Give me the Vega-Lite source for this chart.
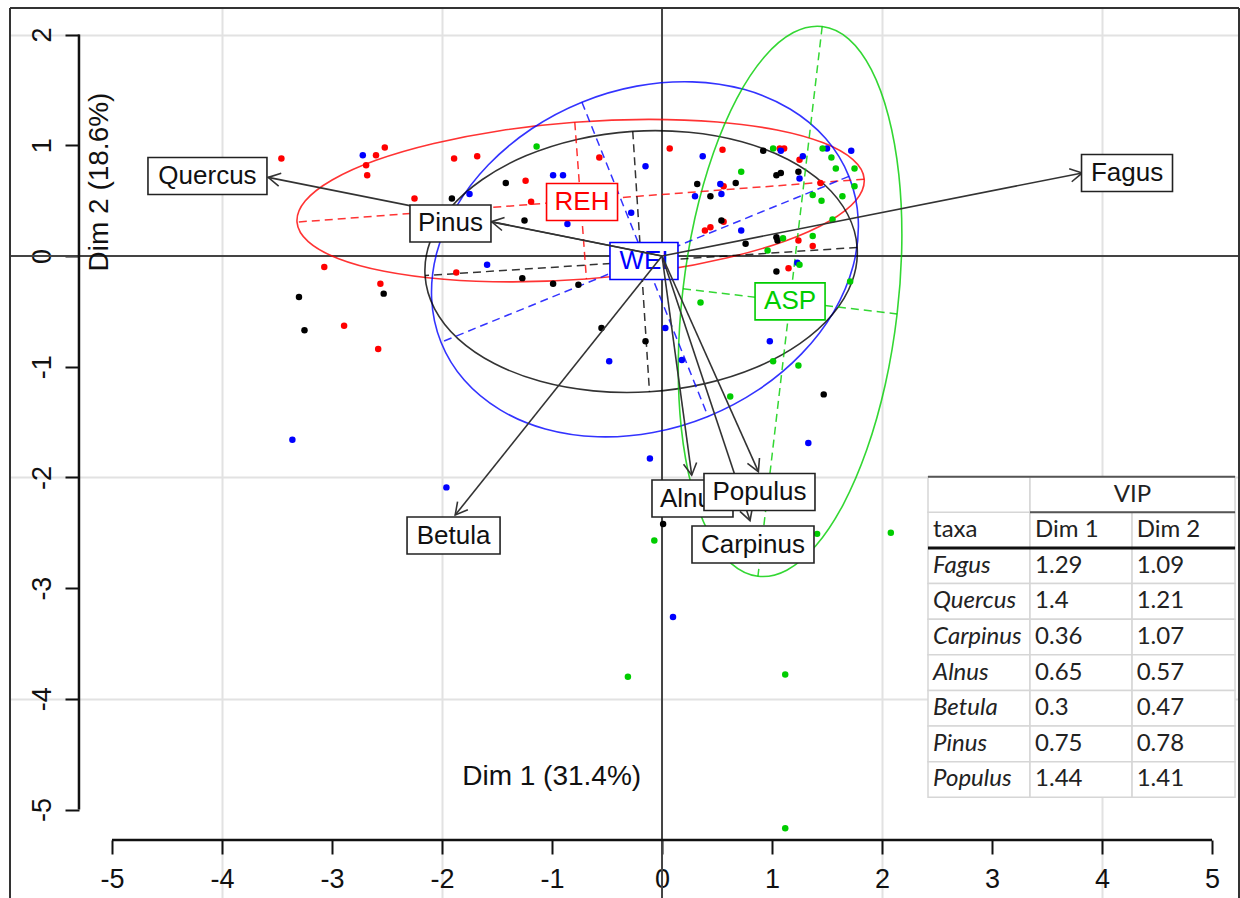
{
  "$schema": "https://vega.github.io/schema/vega-lite/v6.json",
  "width": 1229,
  "height": 890,
  "autosize": {"type": "none"},
  "padding": {"left": 10, "top": 8, "right": 1, "bottom": 0},
  "background": "white",
  "config": {"view": {"stroke": null}, "font": "Liberation Sans"},
  "datasets": {
    "ind": [
      {"g":"REH","x":-3.46,"y":0.88},{"g":"REH","x":-2.60,"y":0.91},{"g":"REH","x":-2.52,"y":0.98},{"g":"REH","x":-2.69,"y":0.82},{"g":"REH","x":-2.68,"y":0.73},{"g":"REH","x":-2.25,"y":0.52},{"g":"REH","x":-3.07,"y":-0.10},{"g":"REH","x":-2.56,"y":-0.25},{"g":"REH","x":-2.89,"y":-0.63},{"g":"REH","x":-2.58,"y":-0.84},{"g":"REH","x":-1.89,"y":0.88},{"g":"REH","x":-1.68,"y":0.90},{"g":"REH","x":-0.57,"y":0.89},{"g":"REH","x":0.07,"y":0.97},{"g":"REH","x":-1.24,"y":0.68},{"g":"REH","x":-1.19,"y":0.49},{"g":"REH","x":-1.87,"y":-0.15},{"g":"REH","x":0.55,"y":0.96},{"g":"REH","x":1.07,"y":0.97},{"g":"REH","x":1.11,"y":0.97},{"g":"REH","x":1.25,"y":0.87},{"g":"REH","x":1.44,"y":0.66},{"g":"REH","x":0.56,"y":0.63},{"g":"REH","x":0.39,"y":0.23},{"g":"REH","x":0.44,"y":0.26},{"g":"REH","x":0.56,"y":0.31},{"g":"REH","x":1.24,"y":0.14},{"g":"REH","x":1.37,"y":0.09},{"g":"REH","x":1.15,"y":-0.11},
      {"g":"WEI","x":-2.72,"y":0.91},{"g":"WEI","x":-3.36,"y":-1.66},{"g":"WEI","x":-0.99,"y":0.73},{"g":"WEI","x":-0.90,"y":0.73},{"g":"WEI","x":-0.15,"y":0.81},{"g":"WEI","x":-1.75,"y":0.56},{"g":"WEI","x":-0.86,"y":0.29},{"g":"WEI","x":-0.28,"y":0.39},{"g":"WEI","x":-1.59,"y":-0.08},{"g":"WEI","x":0.30,"y":0.54},{"g":"WEI","x":0.37,"y":0.90},{"g":"WEI","x":1.08,"y":0.95},{"g":"WEI","x":1.28,"y":0.90},{"g":"WEI","x":1.50,"y":0.97},{"g":"WEI","x":1.72,"y":0.95},{"g":"WEI","x":1.25,"y":0.70},{"g":"WEI","x":0.53,"y":0.65},{"g":"WEI","x":0.54,"y":0.56},{"g":"WEI","x":0.72,"y":0.23},{"g":"WEI","x":1.23,"y":-0.06},{"g":"WEI","x":0.03,"y":-0.65},{"g":"WEI","x":-0.48,"y":-0.95},{"g":"WEI","x":0.18,"y":-0.94},{"g":"WEI","x":0.98,"y":-0.77},{"g":"WEI","x":1.33,"y":-1.69},{"g":"WEI","x":-0.11,"y":-1.83},{"g":"WEI","x":-1.96,"y":-2.09},{"g":"WEI","x":0.10,"y":-3.26},
      {"g":"ALL","x":-2.53,"y":-0.34},{"g":"ALL","x":-3.30,"y":-0.37},{"g":"ALL","x":-3.25,"y":-0.67},{"g":"ALL","x":-1.42,"y":0.66},{"g":"ALL","x":-1.91,"y":0.52},{"g":"ALL","x":-1.25,"y":0.32},{"g":"ALL","x":-1.27,"y":-0.20},{"g":"ALL","x":-0.99,"y":-0.25},{"g":"ALL","x":-0.76,"y":-0.26},{"g":"ALL","x":0.32,"y":0.65},{"g":"ALL","x":0.92,"y":0.95},{"g":"ALL","x":1.04,"y":0.73},{"g":"ALL","x":1.08,"y":0.75},{"g":"ALL","x":1.24,"y":0.76},{"g":"ALL","x":0.67,"y":0.66},{"g":"ALL","x":0.44,"y":0.54},{"g":"ALL","x":0.54,"y":0.32},{"g":"ALL","x":0.76,"y":0.11},{"g":"ALL","x":1.04,"y":0.17},{"g":"ALL","x":1.05,"y":0.14},{"g":"ALL","x":1.04,"y":-0.14},{"g":"ALL","x":-0.55,"y":-0.65},{"g":"ALL","x":-0.15,"y":-0.77},{"g":"ALL","x":1.47,"y":-1.25},{"g":"ALL","x":0.01,"y":-2.42},
      {"g":"ASP","x":-1.14,"y":0.99},{"g":"ASP","x":1.01,"y":0.97},{"g":"ASP","x":1.46,"y":0.97},{"g":"ASP","x":1.54,"y":0.89},{"g":"ASP","x":1.58,"y":0.79},{"g":"ASP","x":1.75,"y":0.79},{"g":"ASP","x":1.75,"y":0.63},{"g":"ASP","x":1.64,"y":0.54},{"g":"ASP","x":1.37,"y":0.55},{"g":"ASP","x":1.45,"y":0.50},{"g":"ASP","x":0.72,"y":0.76},{"g":"ASP","x":1.10,"y":0.16},{"g":"ASP","x":1.37,"y":0.18},{"g":"ASP","x":0.96,"y":0.05},{"g":"ASP","x":1.55,"y":0.33},{"g":"ASP","x":1.25,"y":-0.08},{"g":"ASP","x":1.71,"y":-0.23},{"g":"ASP","x":0.35,"y":-0.42},{"g":"ASP","x":1.01,"y":-0.95},{"g":"ASP","x":1.24,"y":-0.99},{"g":"ASP","x":0.62,"y":-1.27},{"g":"ASP","x":-0.07,"y":-2.57},{"g":"ASP","x":1.41,"y":-2.51},{"g":"ASP","x":2.08,"y":-2.50},{"g":"ASP","x":-0.31,"y":-3.80},{"g":"ASP","x":1.12,"y":-3.78},{"g":"ASP","x":1.12,"y":-5.17}
    ],
    "ell": [
      {"g":"REH","i":0,"x":1.838,"y":0.694},{"g":"REH","i":1,"x":1.736,"y":0.870},{"g":"REH","i":2,"x":1.466,"y":1.022},{"g":"REH","i":3,"x":1.045,"y":1.138},{"g":"REH","i":4,"x":0.503,"y":1.210},{"g":"REH","i":5,"x":-0.124,"y":1.234},{"g":"REH","i":6,"x":-0.793,"y":1.208},{"g":"REH","i":7,"x":-1.459,"y":1.134},{"g":"REH","i":8,"x":-2.075,"y":1.016},{"g":"REH","i":9,"x":-2.601,"y":0.864},{"g":"REH","i":10,"x":-2.999,"y":0.686},{"g":"REH","i":11,"x":-3.244,"y":0.496},{"g":"REH","i":12,"x":-3.318,"y":0.306},{"g":"REH","i":13,"x":-3.216,"y":0.130},{"g":"REH","i":14,"x":-2.946,"y":-0.022},{"g":"REH","i":15,"x":-2.525,"y":-0.138},{"g":"REH","i":16,"x":-1.983,"y":-0.210},{"g":"REH","i":17,"x":-1.356,"y":-0.234},{"g":"REH","i":18,"x":-0.687,"y":-0.208},{"g":"REH","i":19,"x":-0.021,"y":-0.134},{"g":"REH","i":20,"x":0.595,"y":-0.016},{"g":"REH","i":21,"x":1.121,"y":0.136},{"g":"REH","i":22,"x":1.519,"y":0.314},{"g":"REH","i":23,"x":1.764,"y":0.504},
      {"g":"WEI","i":0,"x":1.699,"y":0.719},{"g":"WEI","i":1,"x":1.488,"y":1.061},{"g":"WEI","i":2,"x":1.164,"y":1.328},{"g":"WEI","i":3,"x":0.751,"y":1.503},{"g":"WEI","i":4,"x":0.276,"y":1.573},{"g":"WEI","i":5,"x":-0.229,"y":1.534},{"g":"WEI","i":6,"x":-0.728,"y":1.389},{"g":"WEI","i":7,"x":-1.188,"y":1.147},{"g":"WEI","i":8,"x":-1.578,"y":0.824},{"g":"WEI","i":9,"x":-1.871,"y":0.444},{"g":"WEI","i":10,"x":-2.047,"y":0.031},{"g":"WEI","i":11,"x":-2.094,"y":-0.386},{"g":"WEI","i":12,"x":-2.009,"y":-0.779},{"g":"WEI","i":13,"x":-1.798,"y":-1.121},{"g":"WEI","i":14,"x":-1.474,"y":-1.388},{"g":"WEI","i":15,"x":-1.061,"y":-1.563},{"g":"WEI","i":16,"x":-0.586,"y":-1.633},{"g":"WEI","i":17,"x":-0.081,"y":-1.594},{"g":"WEI","i":18,"x":0.418,"y":-1.449},{"g":"WEI","i":19,"x":0.878,"y":-1.207},{"g":"WEI","i":20,"x":1.268,"y":-0.884},{"g":"WEI","i":21,"x":1.561,"y":-0.504},{"g":"WEI","i":22,"x":1.737,"y":-0.091},{"g":"WEI","i":23,"x":1.784,"y":0.326},
      {"g":"ALL","i":0,"x":1.774,"y":0.077},{"g":"ALL","i":1,"x":1.687,"y":0.377},{"g":"ALL","i":2,"x":1.473,"y":0.648},{"g":"ALL","i":3,"x":1.145,"y":0.871},{"g":"ALL","i":4,"x":0.726,"y":1.032},{"g":"ALL","i":5,"x":0.245,"y":1.118},{"g":"ALL","i":6,"x":-0.266,"y":1.126},{"g":"ALL","i":7,"x":-0.772,"y":1.053},{"g":"ALL","i":8,"x":-1.238,"y":0.905},{"g":"ALL","i":9,"x":-1.633,"y":0.691},{"g":"ALL","i":10,"x":-1.929,"y":0.428},{"g":"ALL","i":11,"x":-2.107,"y":0.132},{"g":"ALL","i":12,"x":-2.154,"y":-0.177},{"g":"ALL","i":13,"x":-2.067,"y":-0.477},{"g":"ALL","i":14,"x":-1.853,"y":-0.748},{"g":"ALL","i":15,"x":-1.525,"y":-0.971},{"g":"ALL","i":16,"x":-1.106,"y":-1.132},{"g":"ALL","i":17,"x":-0.625,"y":-1.218},{"g":"ALL","i":18,"x":-0.114,"y":-1.226},{"g":"ALL","i":19,"x":0.392,"y":-1.153},{"g":"ALL","i":20,"x":0.858,"y":-1.005},{"g":"ALL","i":21,"x":1.253,"y":-0.791},{"g":"ALL","i":22,"x":1.549,"y":-0.528},{"g":"ALL","i":23,"x":1.727,"y":-0.232},
      {"g":"ASP","i":0,"x":1.456,"y":2.073},{"g":"ASP","i":1,"x":1.194,"y":2.018},{"g":"ASP","i":2,"x":0.930,"y":1.798},{"g":"ASP","i":3,"x":0.682,"y":1.427},{"g":"ASP","i":4,"x":0.467,"y":0.931},{"g":"ASP","i":5,"x":0.299,"y":0.343},{"g":"ASP","i":6,"x":0.191,"y":-0.296},{"g":"ASP","i":7,"x":0.148,"y":-0.942},{"g":"ASP","i":8,"x":0.175,"y":-1.552},{"g":"ASP","i":9,"x":0.270,"y":-2.085},{"g":"ASP","i":10,"x":0.425,"y":-2.503},{"g":"ASP","i":11,"x":0.630,"y":-2.779},{"g":"ASP","i":12,"x":0.872,"y":-2.893},{"g":"ASP","i":13,"x":1.134,"y":-2.838},{"g":"ASP","i":14,"x":1.398,"y":-2.618},{"g":"ASP","i":15,"x":1.646,"y":-2.247},{"g":"ASP","i":16,"x":1.861,"y":-1.751},{"g":"ASP","i":17,"x":2.029,"y":-1.163},{"g":"ASP","i":18,"x":2.137,"y":-0.524},{"g":"ASP","i":19,"x":2.180,"y":0.122},{"g":"ASP","i":20,"x":2.153,"y":0.732},{"g":"ASP","i":21,"x":2.058,"y":1.265},{"g":"ASP","i":22,"x":1.903,"y":1.683},{"g":"ASP","i":23,"x":1.698,"y":1.959}
    ],
    "eax": [
      {"g":"REH","x":1.838,"y":0.694,"x2":-3.318,"y2":0.306},{"g":"REH","x":-0.793,"y":1.208,"x2":-0.687,"y2":-0.208},
      {"g":"WEI","x":1.699,"y":0.719,"x2":-2.009,"y2":-0.779},{"g":"WEI","x":-0.728,"y":1.389,"x2":0.418,"y2":-1.449},
      {"g":"ALL","x":1.774,"y":0.077,"x2":-2.154,"y2":-0.177},{"g":"ALL","x":-0.266,"y":1.126,"x2":-0.114,"y2":-1.226},
      {"g":"ASP","x":1.456,"y":2.073,"x2":0.872,"y2":-2.893},{"g":"ASP","x":0.191,"y":-0.296,"x2":2.137,"y2":-0.524}
    ],
    "grp": [
      {"label":"REH","g":"REH","x":-0.727,"y":0.488},
      {"label":"WEI","g":"WEI","x":-0.164,"y":-0.045},
      {"label":"ASP","g":"ASP","x":1.164,"y":-0.41}
    ],
    "taxa": [
      {"label":"Fagus","x":3.82,"y":0.75,"lx":4.227,"ly":0.75},
      {"label":"Quercus","x":-3.58,"y":0.71,"lx":-4.132,"ly":0.723},
      {"label":"Carpinus","x":0.80,"y":-2.39,"lx":0.827,"ly":-2.606},
      {"label":"Alnus","x":0.27,"y":-1.98,"lx":0.277,"ly":-2.191},
      {"label":"Betula","x":-1.88,"y":-2.34,"lx":-1.895,"ly":-2.525},
      {"label":"Pinus","x":-1.55,"y":0.31,"lx":-1.923,"ly":0.294},
      {"label":"Populus","x":0.876,"y":-1.948,"lx":0.886,"ly":-2.132}
    ],
    "vip": [
      {"taxa":"Fagus","dim1":1.29,"dim2":1.09},
      {"taxa":"Quercus","dim1":1.4,"dim2":1.21},
      {"taxa":"Carpinus","dim1":0.36,"dim2":1.07},
      {"taxa":"Alnus","dim1":0.65,"dim2":0.57},
      {"taxa":"Betula","dim1":0.3,"dim2":0.47},
      {"taxa":"Pinus","dim1":0.75,"dim2":0.78},
      {"taxa":"Populus","dim1":1.44,"dim2":1.41}
    ]
  },
  "layer": [
    {
      "layer": [
        {
          "data": {"values": [{"v": 0}]},
          "mark": {"type": "rule", "color": "#444", "strokeWidth": 2},
          "encoding": {
            "y": {"field": "v", "type": "quantitative", "title": null,
              "scale": {"domain": [-5.799, 2.24], "nice": false, "zero": false},
              "axis": {"values": [-5,-4,-3,-2,-1,0,1,2], "title": null, "offset": -69, "domain": false,
                "tickSize": 14, "tickWidth": 2, "tickColor": "#111",
                "labelAngle": 270, "labelAlign": "center", "labelBaseline": "alphabetic", "labelPadding": 15,
                "labelFontSize": 27, "labelFont": "Liberation Sans", "labelColor": "#111",
                "labelExpr": "datum.value + ''", "labelOverlap": false, "labelFlush": false,
                "grid": true, "gridColor": "#e2e2e2", "gridWidth": 2,
                "gridOpacity": {"condition": {"test": "datum.value % 2 === 0 && datum.value !== 0", "value": 1}, "value": 0}}}
          }
        },
        {
          "data": {"values": [{"v": 0}]},
          "mark": {"type": "rule", "color": "#444", "strokeWidth": 2},
          "encoding": {
            "x": {"field": "v", "type": "quantitative", "title": null,
              "scale": {"domain": [-5.927, 5.245], "nice": false, "zero": false},
              "axis": {"values": [-5,-4,-3,-2,-1,0,1,2,3,4,5], "title": null, "offset": -58, "domain": false,
                "tickSize": 14, "tickWidth": 2, "tickColor": "#111",
                "labelPadding": 12, "labelFontSize": 27, "labelFont": "Liberation Sans", "labelColor": "#111",
                "labelExpr": "datum.value + ''", "labelOverlap": false, "labelFlush": false,
                "grid": true, "gridColor": "#e2e2e2", "gridWidth": 2,
                "gridOpacity": {"condition": {"test": "datum.value % 2 === 0 && datum.value !== 0", "value": 1}, "value": 0}}}
          }
        },
        {
          "data": {"name": "ell"},
          "mark": {"type": "line", "interpolate": "cardinal-closed", "strokeWidth": 1.6, "opacity": 0.8},
          "encoding": {
            "x": {"field": "x", "type": "quantitative", "title": null},
            "y": {"field": "y", "type": "quantitative", "title": null},
            "order": {"field": "i", "type": "quantitative"},
            "color": {"field": "g", "type": "nominal", "legend": null,
              "scale": {"domain": ["REH","WEI","ASP","ALL"], "range": ["#ff0000","#0000ff","#00cd00","#000000"]}}
          }
        },
        {
          "data": {"name": "eax"},
          "mark": {"type": "rule", "strokeDash": [8, 5], "strokeWidth": 1.5, "opacity": 0.8},
          "encoding": {
            "x": {"field": "x", "type": "quantitative", "title": null},
            "y": {"field": "y", "type": "quantitative", "title": null},
            "x2": {"field": "x2"},
            "y2": {"field": "y2"},
            "color": {"field": "g", "type": "nominal", "legend": null,
              "scale": {"domain": ["REH","WEI","ASP","ALL"], "range": ["#ff0000","#0000ff","#00cd00","#000000"]}}
          }
        },
        {
          "data": {"name": "ind"},
          "mark": {"type": "circle", "size": 42, "opacity": 1},
          "encoding": {
            "x": {"field": "x", "type": "quantitative", "title": null},
            "y": {"field": "y", "type": "quantitative", "title": null},
            "color": {"field": "g", "type": "nominal", "legend": null,
              "scale": {"domain": ["REH","WEI","ASP","ALL"], "range": ["#ff0000","#0000ff","#00cd00","#000000"]}}
          }
        },
        {
          "data": {"name": "grp"},
          "mark": {"type": "point", "filled": true, "fill": "white", "size": 1369, "strokeWidth": 1.6, "opacity": 1, "fillOpacity": 1, "strokeOpacity": 1},
          "encoding": {
            "x": {"field": "x", "type": "quantitative", "title": null},
            "y": {"field": "y", "type": "quantitative", "title": null},
            "shape": {"field": "label", "type": "nominal", "legend": null,
              "scale": {"domain": ["Fagus","Quercus","Carpinus","Alnus","Betula","Pinus","Populus","REH","WEI","ASP"],
                "range": ["M-2.459,-1H2.459V1H-2.459Z","M-3.216,-1H3.216V1H-3.216Z","M-3.297,-1H3.297V1H-3.297Z","M-2.189,-1H2.189V1H-2.189Z","M-2.514,-1H2.514V1H-2.514Z","M-2.189,-1H2.189V1H-2.189Z","M-3,-1H3V1H-3Z","M-1.919,-1H1.919V1H-1.919Z","M-1.838,-1H1.838V1H-1.838Z","M-1.892,-1H1.892V1H-1.892Z"]}},
            "stroke": {"field": "g", "type": "nominal", "legend": null,
              "scale": {"domain": ["REH","WEI","ASP","ALL"], "range": ["#ff0000","#0000ff","#00cd00","#000000"]}}
          }
        },
        {
          "data": {"name": "grp"},
          "mark": {"type": "text", "fontSize": 26, "font": "Liberation Sans", "align": "center", "baseline": "middle"},
          "encoding": {
            "x": {"field": "x", "type": "quantitative", "title": null},
            "y": {"field": "y", "type": "quantitative", "title": null},
            "text": {"field": "label"},
            "color": {"field": "g", "type": "nominal", "legend": null,
              "scale": {"domain": ["REH","WEI","ASP","ALL"], "range": ["#ff0000","#0000ff","#00cd00","#000000"]}}
          }
        },
        {
          "data": {"name": "taxa"},
          "mark": {"type": "rule", "color": "#333", "strokeWidth": 1.6},
          "encoding": {
            "x": {"field": "x", "type": "quantitative", "title": null},
            "y": {"field": "y", "type": "quantitative", "title": null},
            "x2": {"datum": 0},
            "y2": {"datum": 0}
          }
        },
        {
          "data": {"name": "taxa"},
          "mark": {"type": "point", "filled": false, "shape": "M-0.55,1L0,0L0.55,1", "size": 576, "color": "#333", "strokeWidth": 1.6, "opacity": 1,
            "angle": {"expr": "atan2(datum.x, datum.y) * 180 / PI"}},
          "encoding": {
            "x": {"field": "x", "type": "quantitative", "title": null},
            "y": {"field": "y", "type": "quantitative", "title": null}
          }
        },
        {
          "data": {"name": "taxa"},
          "transform": [{"filter": "datum.label !== 'Populus'"}],
          "mark": {"type": "point", "filled": true, "fill": "white", "stroke": "#222", "size": 1369, "strokeWidth": 1.6, "opacity": 1, "fillOpacity": 1, "strokeOpacity": 1},
          "encoding": {
            "x": {"field": "lx", "type": "quantitative", "title": null},
            "y": {"field": "ly", "type": "quantitative", "title": null},
            "shape": {"field": "label", "type": "nominal", "legend": null,
              "scale": {"domain": ["Fagus","Quercus","Carpinus","Alnus","Betula","Pinus","Populus","REH","WEI","ASP"],
                "range": ["M-2.459,-1H2.459V1H-2.459Z","M-3.216,-1H3.216V1H-3.216Z","M-3.297,-1H3.297V1H-3.297Z","M-2.189,-1H2.189V1H-2.189Z","M-2.514,-1H2.514V1H-2.514Z","M-2.189,-1H2.189V1H-2.189Z","M-3,-1H3V1H-3Z","M-1.919,-1H1.919V1H-1.919Z","M-1.838,-1H1.838V1H-1.838Z","M-1.892,-1H1.892V1H-1.892Z"]}}
          }
        },
        {
          "data": {"name": "taxa"},
          "transform": [{"filter": "datum.label !== 'Populus'"}],
          "mark": {"type": "text", "fontSize": 26, "font": "Liberation Sans", "color": "#111", "align": "center", "baseline": "middle"},
          "encoding": {
            "x": {"field": "lx", "type": "quantitative", "title": null},
            "y": {"field": "ly", "type": "quantitative", "title": null},
            "text": {"field": "label"}
          }
        },
        {
          "data": {"name": "taxa"},
          "transform": [{"filter": "datum.label === 'Populus'"}],
          "mark": {"type": "point", "filled": true, "fill": "white", "stroke": "#222", "size": 1369, "strokeWidth": 1.6, "opacity": 1, "fillOpacity": 1, "strokeOpacity": 1},
          "encoding": {
            "x": {"field": "lx", "type": "quantitative", "title": null},
            "y": {"field": "ly", "type": "quantitative", "title": null},
            "shape": {"field": "label", "type": "nominal", "legend": null,
              "scale": {"domain": ["Fagus","Quercus","Carpinus","Alnus","Betula","Pinus","Populus","REH","WEI","ASP"],
                "range": ["M-2.459,-1H2.459V1H-2.459Z","M-3.216,-1H3.216V1H-3.216Z","M-3.297,-1H3.297V1H-3.297Z","M-2.189,-1H2.189V1H-2.189Z","M-2.514,-1H2.514V1H-2.514Z","M-2.189,-1H2.189V1H-2.189Z","M-3,-1H3V1H-3Z","M-1.919,-1H1.919V1H-1.919Z","M-1.838,-1H1.838V1H-1.838Z","M-1.892,-1H1.892V1H-1.892Z"]}}
          }
        },
        {
          "data": {"name": "taxa"},
          "transform": [{"filter": "datum.label === 'Populus'"}],
          "mark": {"type": "text", "fontSize": 26, "font": "Liberation Sans", "color": "#111", "align": "center", "baseline": "middle"},
          "encoding": {
            "x": {"field": "lx", "type": "quantitative", "title": null},
            "y": {"field": "ly", "type": "quantitative", "title": null},
            "text": {"field": "label"}
          }
        },
        {
          "data": {"values": [{}]},
          "mark": {"type": "rule", "color": "#111", "strokeWidth": 2.5},
          "encoding": {
            "x": {"datum": -5, "title": null}, "x2": {"datum": 5},
            "y": {"datum": -5.276, "title": null}
          }
        },
        {
          "data": {"values": [{}]},
          "mark": {"type": "rule", "color": "#111", "strokeWidth": 2.5},
          "encoding": {
            "x": {"datum": -5.3, "title": null},
            "y": {"datum": -5, "title": null}, "y2": {"datum": 2}
          }
        },
        {
          "data": {"values": [{}]},
          "mark": {"type": "rule", "color": "#333", "strokeWidth": 2},
          "encoding": {"x": {"datum": -5.927, "title": null}}
        },
        {
          "data": {"values": [{}]},
          "mark": {"type": "rule", "color": "#333", "strokeWidth": 2},
          "encoding": {"x": {"datum": 5.245, "title": null}}
        },
        {
          "data": {"values": [{}]},
          "mark": {"type": "rule", "color": "#333", "strokeWidth": 2},
          "encoding": {"y": {"datum": 2.24, "title": null}}
        },
        {
          "data": {"values": [{}]},
          "mark": {"type": "text", "text": "Dim 1 (31.4%)", "fontSize": 28, "font": "Liberation Sans", "color": "#111", "align": "center", "baseline": "middle"},
          "encoding": {"x": {"datum": -1.003, "title": null}, "y": {"datum": -4.704, "title": null}}
        },
        {
          "data": {"values": [{}]},
          "mark": {"type": "text", "text": "Dim 2 (18.6%)", "angle": 270, "fontSize": 28, "font": "Liberation Sans", "color": "#111", "align": "center", "baseline": "middle"},
          "encoding": {"x": {"datum": -5.109, "title": null}, "y": {"datum": 0.668, "title": null}}
        }
      ]
    },
    {
      "layer": [
        {
          "data": {"name": "vip"},
          "mark": {"type": "rect", "fill": "white", "stroke": "#d6d6d6", "strokeWidth": 1.5},
          "encoding": {
            "x": {"datum": 2.418, "title": null}, "x2": {"datum": 3.345},
            "y": {"field": "taxa", "type": "nominal", "axis": null,
              "scale": {"type": "band", "domain": ["VIP","taxa","Fagus","Quercus","Carpinus","Alnus","Betula","Pinus","Populus"], "range": [468.7, 789.3], "paddingInner": 0, "paddingOuter": 0}}
          }
        },
        {
          "data": {"name": "vip"},
          "mark": {"type": "rect", "fill": "white", "stroke": "#d6d6d6", "strokeWidth": 1.5},
          "encoding": {
            "x": {"datum": 3.345, "title": null}, "x2": {"datum": 4.273},
            "y": {"field": "taxa", "type": "nominal", "axis": null}
          }
        },
        {
          "data": {"name": "vip"},
          "mark": {"type": "rect", "fill": "white", "stroke": "#d6d6d6", "strokeWidth": 1.5},
          "encoding": {
            "x": {"datum": 4.273, "title": null}, "x2": {"datum": 5.209},
            "y": {"field": "taxa", "type": "nominal", "axis": null}
          }
        },
        {
          "data": {"values": [{}]},
          "mark": {"type": "rect", "fill": "white", "stroke": "#d6d6d6", "strokeWidth": 1.5},
          "encoding": {"x": {"datum": 2.418, "title": null}, "x2": {"datum": 3.345}, "y": {"datum": "taxa", "type": "nominal", "axis": null}}
        },
        {
          "data": {"values": [{}]},
          "mark": {"type": "rect", "fill": "white", "stroke": "#d6d6d6", "strokeWidth": 1.5},
          "encoding": {"x": {"datum": 3.345, "title": null}, "x2": {"datum": 4.273}, "y": {"datum": "taxa", "type": "nominal", "axis": null}}
        },
        {
          "data": {"values": [{}]},
          "mark": {"type": "rect", "fill": "white", "stroke": "#d6d6d6", "strokeWidth": 1.5},
          "encoding": {"x": {"datum": 4.273, "title": null}, "x2": {"datum": 5.209}, "y": {"datum": "taxa", "type": "nominal", "axis": null}}
        },
        {
          "data": {"values": [{}]},
          "mark": {"type": "rect", "fill": "white", "stroke": "#d6d6d6", "strokeWidth": 1.5},
          "encoding": {"x": {"datum": 2.418, "title": null}, "x2": {"datum": 3.345}, "y": {"datum": "VIP", "type": "nominal", "axis": null}}
        },
        {
          "data": {"values": [{}]},
          "mark": {"type": "rect", "fill": "white", "stroke": "#d6d6d6", "strokeWidth": 1.5},
          "encoding": {"x": {"datum": 3.345, "title": null}, "x2": {"datum": 5.209}, "y": {"datum": "VIP", "type": "nominal", "axis": null}}
        },
        {
          "data": {"values": [{}]},
          "mark": {"type": "rule", "color": "#555", "strokeWidth": 2},
          "encoding": {"x": {"datum": 2.418, "title": null}, "x2": {"datum": 5.209}, "y": {"datum": "VIP", "type": "nominal", "bandPosition": 0, "axis": null}}
        },
        {
          "data": {"values": [{}]},
          "mark": {"type": "rule", "color": "#555", "strokeWidth": 2},
          "encoding": {"x": {"datum": 3.345, "title": null}, "x2": {"datum": 5.209}, "y": {"datum": "taxa", "type": "nominal", "bandPosition": 0, "axis": null}}
        },
        {
          "data": {"values": [{}]},
          "mark": {"type": "rule", "color": "#111", "strokeWidth": 3},
          "encoding": {"x": {"datum": 2.418, "title": null}, "x2": {"datum": 5.209}, "y": {"datum": "Fagus", "type": "nominal", "bandPosition": 0, "axis": null}}
        },
        {
          "data": {"values": [{}]},
          "mark": {"type": "text", "text": "VIP", "font": "Lato", "fontSize": 24, "color": "#222", "align": "center", "baseline": "middle"},
          "encoding": {"x": {"datum": 4.277, "title": null}, "y": {"datum": "VIP", "type": "nominal", "axis": null}}
        },
        {
          "data": {"values": [{}]},
          "mark": {"type": "text", "text": "taxa", "font": "Lato", "fontSize": 24, "color": "#222", "align": "left", "baseline": "middle"},
          "encoding": {"x": {"datum": 2.464, "title": null}, "y": {"datum": "taxa", "type": "nominal", "axis": null}}
        },
        {
          "data": {"values": [{}]},
          "mark": {"type": "text", "text": "Dim 1", "font": "Lato", "fontSize": 24, "color": "#222", "align": "left", "baseline": "middle"},
          "encoding": {"x": {"datum": 3.391, "title": null}, "y": {"datum": "taxa", "type": "nominal", "axis": null}}
        },
        {
          "data": {"values": [{}]},
          "mark": {"type": "text", "text": "Dim 2", "font": "Lato", "fontSize": 24, "color": "#222", "align": "left", "baseline": "middle"},
          "encoding": {"x": {"datum": 4.315, "title": null}, "y": {"datum": "taxa", "type": "nominal", "axis": null}}
        },
        {
          "data": {"name": "vip"},
          "mark": {"type": "text", "font": "Lato", "fontSize": 24, "fontStyle": "italic", "color": "#222", "align": "left", "baseline": "middle"},
          "encoding": {"x": {"datum": 2.464, "title": null}, "y": {"field": "taxa", "type": "nominal", "axis": null}, "text": {"field": "taxa"}}
        },
        {
          "data": {"name": "vip"},
          "mark": {"type": "text", "font": "Lato", "fontSize": 24, "color": "#222", "align": "left", "baseline": "middle"},
          "encoding": {"x": {"datum": 3.391, "title": null}, "y": {"field": "taxa", "type": "nominal", "axis": null}, "text": {"field": "dim1", "type": "nominal"}}
        },
        {
          "data": {"name": "vip"},
          "mark": {"type": "text", "font": "Lato", "fontSize": 24, "color": "#222", "align": "left", "baseline": "middle"},
          "encoding": {"x": {"datum": 4.315, "title": null}, "y": {"field": "taxa", "type": "nominal", "axis": null}, "text": {"field": "dim2", "type": "nominal"}}
        }
      ]
    }
  ],
  "resolve": {"scale": {"y": "independent"}, "axis": {"y": "independent"}}
}
